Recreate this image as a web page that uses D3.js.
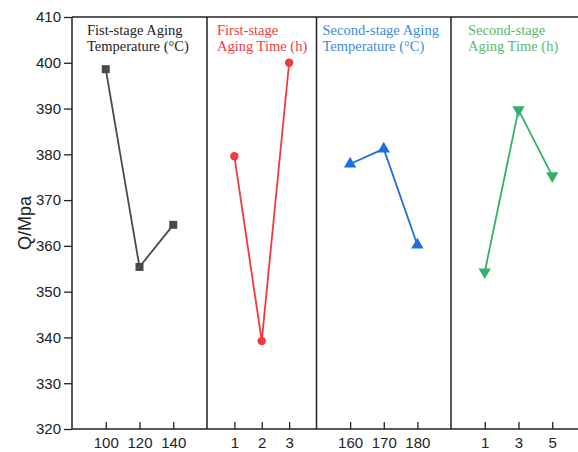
<!DOCTYPE html>
<html>
<head>
<meta charset="utf-8">
<script src="https://cdn.jsdelivr.net/npm/d3@7"></script>
<style>
  html, body { margin: 0; padding: 0; background: #fff; }
  svg { display: block; }
</style>
</head>
<body>
<div id="chart"></div>
<script>
// data
var panelTitles = [
  ["Fist-stage Aging", "Temperature (\u00B0C)"],
  ["First-stage", "Aging Time (h)"],
  ["Second-stage Aging", "Temperature (\u00B0C)"],
  ["Second-stage", "Aging Time (h)"]
];
var levels1 = ["100", "120", "140"];
var levels2 = ["1", "2", "3"];
var levels3 = ["160", "170", "180"];
var levels4 = ["1", "3", "5"];
var values1 = [398.6, 355.4, 364.6];
var values2 = [379.6, 339.2, 400.0];
var values3 = [377.9, 381.2, 360.2];
var values4 = [354.3, 389.7, 375.3];
var yTicks = [320, 330, 340, 350, 360, 370, 380, 390, 400, 410];

// layout
var width = 578, height = 452;
var plotTop = 17, plotBottom = 429, plotLeft = 72;
var panelEdges = [72, 207, 316.5, 451, 586];   // panel boundaries along x
var titleInset = [15, 10, 6, 17];
var lineColors = ["#4a4a4a", "#f03a3e", "#1e70de", "#33b06a"];
var titleColors = ["#222222", "#f03a3e", "#3a8be0", "#5cb86a"];
var markers = [d3.symbolSquare, d3.symbolCircle, d3.symbolTriangle, d3.symbolTriangle];
var markerSize = [64, 56, 66, 66];
var markerRotate = [0, 0, 0, 180];

var levels = [levels1, levels2, levels3, levels4];
var values = [values1, values2, values3, values4];

var svg = d3.select("#chart").append("svg")
  .attr("width", width)
  .attr("height", height);

var y = d3.scaleLinear().domain([320, 410]).range([plotBottom, plotTop]);

// y axis
var yAxis = svg.append("g")
  .attr("transform", "translate(" + plotLeft + ",0)")
  .call(d3.axisLeft(y).tickValues(yTicks).tickSize(8).tickPadding(3));
yAxis.select(".domain").remove();
yAxis.selectAll(".tick line").attr("stroke", "#222").attr("stroke-width", 1.3);
yAxis.selectAll(".tick text")
  .attr("fill", "#222")
  .style("font-family", "'Liberation Sans', Arial, sans-serif")
  .style("font-size", "15px");

svg.append("text")
  .attr("transform", "translate(31," + (plotTop + plotBottom) / 2 + ") rotate(-90)")
  .attr("text-anchor", "middle")
  .attr("fill", "#222")
  .style("font-family", "'Liberation Sans', Arial, sans-serif")
  .style("font-size", "18px")
  .text("Q/Mpa");

// panels
panelTitles.forEach(function(title, i) {
  var x = d3.scalePoint()
    .domain(levels[i])
    .range([panelEdges[i], panelEdges[i + 1]])
    .padding(1);

  var g = svg.append("g");

  var xAxis = g.append("g")
    .attr("transform", "translate(0," + plotBottom + ")")
    .call(d3.axisBottom(x).tickSize(-7).tickPadding(8));
  xAxis.select(".domain").remove();
  xAxis.selectAll(".tick line").attr("stroke", "#222").attr("stroke-width", 1.3);
  xAxis.selectAll(".tick text")
    .attr("fill", "#222")
    .style("font-family", "'Liberation Sans', Arial, sans-serif")
    .style("font-size", "15px");

  var line = d3.line()
    .x(function(d, j) { return x(levels[i][j]); })
    .y(function(d) { return y(d); });

  g.append("path")
    .datum(values[i])
    .attr("fill", "none")
    .attr("stroke", lineColors[i])
    .attr("stroke-width", 1.8)
    .attr("d", line);

  g.selectAll(".marker")
    .data(values[i])
    .enter().append("path")
      .attr("class", "marker")
      .attr("d", d3.symbol().type(markers[i]).size(markerSize[i]))
      .attr("fill", lineColors[i])
      .attr("transform", function(d, j) {
        return "translate(" + x(levels[i][j]) + "," + y(d) + ") rotate(" + markerRotate[i] + ")";
      });

  var t = g.append("text")
    .attr("fill", titleColors[i])
    .style("font-family", "'Liberation Serif', 'DejaVu Serif', serif")
    .style("font-size", "14.5px");
  title.forEach(function(s, k) {
    t.append("tspan")
      .attr("x", panelEdges[i] + titleInset[i])
      .attr("y", 35 + k * 16)
      .text(s);
  });
});

// frame and panel dividers
var frame = svg.append("g").attr("stroke", "#222").attr("stroke-width", 1.5);
frame.append("line").attr("x1", plotLeft).attr("x2", width).attr("y1", plotTop).attr("y2", plotTop);
frame.append("line").attr("x1", plotLeft).attr("x2", width).attr("y1", plotBottom).attr("y2", plotBottom);
frame.selectAll(".divider")
  .data(panelEdges.slice(0, 4))
  .enter().append("line")
    .attr("class", "divider")
    .attr("x1", function(d) { return d; })
    .attr("x2", function(d) { return d; })
    .attr("y1", plotTop)
    .attr("y2", plotBottom);
</script>
</body>
</html>
